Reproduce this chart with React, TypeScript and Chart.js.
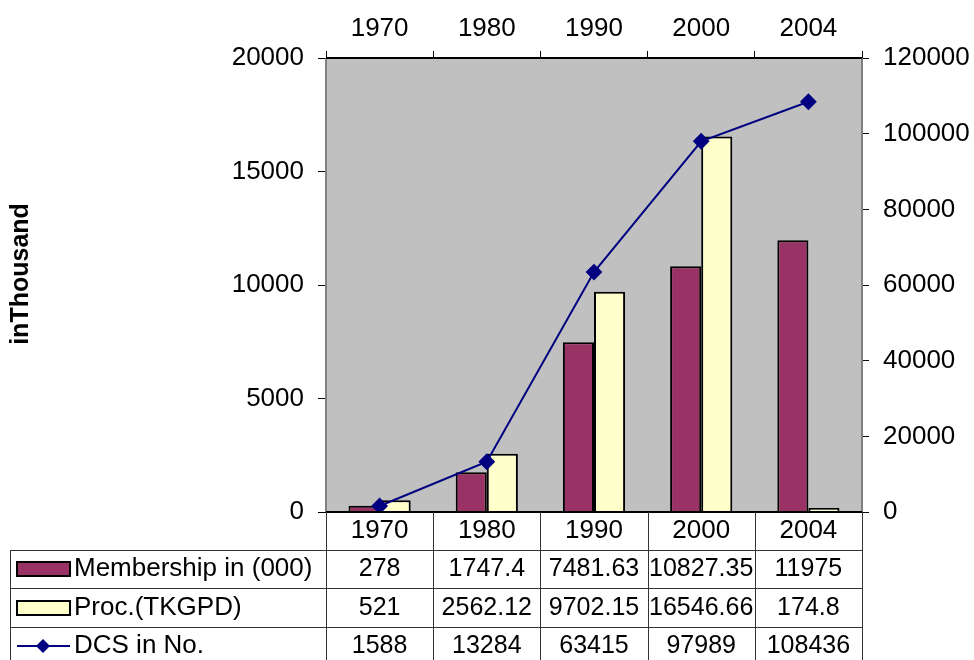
import { useEffect, useRef } from "react";
import { Chart, registerables } from "chart.js";

Chart.register(...registerables);

const categories = ["1970", "1980", "1990", "2000", "2004"];
const membership = [278, 1747.4, 7481.63, 10827.35, 11975];
const procTKGPD = [521, 2562.12, 9702.15, 16546.66, 174.8];
const dcsCount = [1588, 13284, 63415, 97989, 108436];
const seriesNames = ["Membership in (000)", "Proc.(TKGPD)", "DCS in No."];
const leftAxisTitle = "inThousand";

const FONT = "'Liberation Sans', Arial, sans-serif";
const MEM_COLOR = "#993366";
const PROC_COLOR = "#FFFFCC";
const DCS_COLOR = "#000080";

const framePlugin = {
  id: "frameAndTable",
  beforeDraw(chart: any) {
    const { ctx, chartArea } = chart;
    ctx.save();
    ctx.fillStyle = "#ffffff";
    ctx.fillRect(0, 0, chart.width, chart.height);
    ctx.fillStyle = "#C0C0C0";
    ctx.fillRect(chartArea.left, chartArea.top, chartArea.right - chartArea.left, chartArea.bottom - chartArea.top);
    ctx.restore();
  },
  afterDraw(chart: any) {
    const { ctx, chartArea } = chart;
    const xs = chart.scales.x;
    const L = chartArea.left, R = chartArea.right, T = chartArea.top, B = chartArea.bottom;
    ctx.save();
    // plot frame
    ctx.lineWidth = 2;
    ctx.strokeStyle = "#808080";
    ctx.beginPath();
    ctx.moveTo(L, T); ctx.lineTo(L, B);
    ctx.moveTo(R, T); ctx.lineTo(R, B);
    ctx.stroke();
    ctx.strokeStyle = "#000000";
    ctx.beginPath();
    ctx.moveTo(L, T); ctx.lineTo(R, T);
    ctx.moveTo(L, B); ctx.lineTo(R, B);
    ctx.stroke();

    // left axis title
    ctx.save();
    ctx.translate(21, 274);
    ctx.rotate(-Math.PI / 2);
    ctx.font = `bold 25px ${FONT}`;
    ctx.fillStyle = "#000";
    ctx.textAlign = "center";
    ctx.textBaseline = "middle";
    ctx.fillText(leftAxisTitle, 0, 0);
    ctx.restore();

    // data table
    const n = categories.length;
    const step = (R - L) / n;
    const bounds: number[] = [];
    for (let i = 0; i <= n; i++) bounds.push(L + step * i);
    const tableLeft = 10;
    const rowLines = [550, 588, 627];
    const bottom = chart.height;

    ctx.lineWidth = 1;
    ctx.strokeStyle = "#333333";
    ctx.beginPath();
    bounds.forEach((bx) => {
      const px = Math.round(bx) + 0.5;
      ctx.moveTo(px, B); ctx.lineTo(px, bottom);
    });
    rowLines.forEach((ry) => {
      ctx.moveTo(tableLeft, ry + 0.5); ctx.lineTo(R, ry + 0.5);
    });
    ctx.moveTo(tableLeft + 0.5, rowLines[0]); ctx.lineTo(tableLeft + 0.5, bottom);
    ctx.stroke();

    ctx.fillStyle = "#000";
    ctx.textAlign = "center";
    ctx.textBaseline = "middle";
    ctx.font = `26px ${FONT}`;
    const headerY = 531;
    categories.forEach((c, i) => {
      ctx.fillText(c, xs.getPixelForValue(i), headerY);
    });
    ctx.font = `25px ${FONT}`;
    const rowYs = [569, 608, 646];
    const rows = [membership, procTKGPD, dcsCount];
    rows.forEach((vals, r) => {
      vals.forEach((v, i) => {
        ctx.fillText(String(v), xs.getPixelForValue(i), rowYs[r]);
      });
    });

    // legend keys and names
    ctx.textAlign = "left";
    ctx.font = `26px ${FONT}`;
    seriesNames.forEach((name, r) => {
      const cy = rowYs[r];
      if (r < 2) {
        ctx.fillStyle = r === 0 ? MEM_COLOR : PROC_COLOR;
        ctx.fillRect(17, cy - 7, 53, 14);
        ctx.lineWidth = 2;
        ctx.strokeStyle = "#000";
        ctx.strokeRect(17, cy - 7, 53, 14);
      } else {
        ctx.strokeStyle = DCS_COLOR;
        ctx.lineWidth = 2;
        ctx.beginPath();
        ctx.moveTo(17, cy); ctx.lineTo(70, cy);
        ctx.stroke();
        ctx.fillStyle = DCS_COLOR;
        ctx.beginPath();
        ctx.moveTo(43, cy - 7); ctx.lineTo(50, cy); ctx.lineTo(43, cy + 7); ctx.lineTo(36, cy);
        ctx.closePath();
        ctx.fill();
      }
      ctx.fillStyle = "#000";
      ctx.fillText(name, 74, cy);
    });
    ctx.restore();
  },
};

export default function App() {
  const ref = useRef<HTMLCanvasElement | null>(null);
  useEffect(() => {
    if (!ref.current) return;
    const tickFont = { family: FONT, size: 26 };
    const plain = (v: any) => String(v);
    const chart = new Chart(ref.current, {
      type: "bar",
      data: {
        labels: categories,
        datasets: [
          {
            type: "line",
            label: seriesNames[2],
            data: dcsCount,
            yAxisID: "y1",
            order: 0,
            borderColor: DCS_COLOR,
            backgroundColor: DCS_COLOR,
            borderWidth: 2,
            pointStyle: "rectRot",
            pointRadius: 7,
            pointBackgroundColor: DCS_COLOR,
            pointBorderColor: DCS_COLOR,
            tension: 0,
          } as any,
          {
            type: "bar",
            label: seriesNames[0],
            data: membership,
            yAxisID: "y",
            order: 1,
            backgroundColor: MEM_COLOR,
            borderColor: "#000",
            borderWidth: 2,
            categoryPercentage: 0.58,
            barPercentage: 1,
          },
          {
            type: "bar",
            label: seriesNames[1],
            data: procTKGPD,
            yAxisID: "y",
            order: 1,
            backgroundColor: PROC_COLOR,
            borderColor: "#000",
            borderWidth: 2,
            categoryPercentage: 0.58,
            barPercentage: 1,
          },
        ],
      },
      options: {
        animation: false,
        responsive: false,
        layout: { padding: { left: 0, right: 0, top: 0, bottom: 148 } },
        plugins: { legend: { display: false }, tooltip: { enabled: false } },
        scales: {
          x: {
            type: "category",
            position: "top",
            offset: true,
            grid: { offset: true, drawOnChartArea: false, tickLength: 7, color: "#000" },
            border: { display: false },
            ticks: { font: tickFont, color: "#000", padding: 7, maxRotation: 0 },
            afterFit: (s: any) => { s.height = 58; },
          },
          y: {
            position: "left",
            min: 0,
            max: 20000,
            grid: { drawOnChartArea: false, tickLength: 8, color: "#000" },
            border: { display: false },
            ticks: { stepSize: 5000, font: tickFont, color: "#000", padding: 14, callback: plain },
            afterFit: (s: any) => { s.width = 326; },
          },
          y1: {
            position: "right",
            min: 0,
            max: 120000,
            grid: { drawOnChartArea: false, tickLength: 7, color: "#000" },
            border: { display: false },
            ticks: { stepSize: 20000, font: tickFont, color: "#000", padding: 14, callback: plain },
            afterFit: (s: any) => { s.width = 112; },
          },
        },
      } as any,
      plugins: [framePlugin],
    });
    return () => chart.destroy();
  }, []);
  return (
    <div style={{ position: "fixed", left: 0, top: 0, width: 974, height: 660, background: "#fff" }}>
      <canvas ref={ref} width={974} height={660} />
    </div>
  );
}
